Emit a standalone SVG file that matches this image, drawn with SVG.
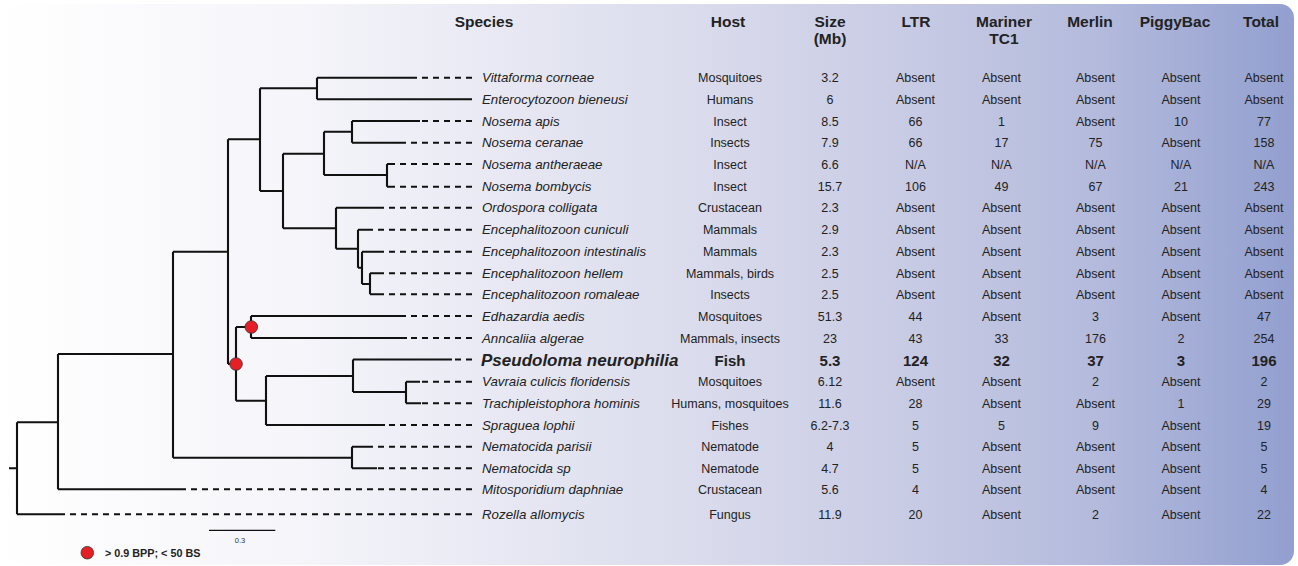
<svg xmlns="http://www.w3.org/2000/svg" width="1298" height="566" viewBox="0 0 1298 566">
<defs>
<linearGradient id="bg" x1="0" y1="0" x2="1" y2="0">
<stop offset="0" stop-color="#ffffff"/>
<stop offset="0.23" stop-color="#f5f5fa"/>
<stop offset="0.37" stop-color="#e9eaf4"/>
<stop offset="0.54" stop-color="#dadbec"/>
<stop offset="0.70" stop-color="#c8cbe4"/>
<stop offset="0.85" stop-color="#b3badc"/>
<stop offset="1" stop-color="#929fcf"/>
</linearGradient>
</defs>
<style>
.t{fill:none;stroke:#111;stroke-width:2.1;stroke-linecap:butt;stroke-linejoin:miter}
.d{fill:none;stroke:#111;stroke-width:2.1;stroke-dasharray:6 5}
.sp{font-family:"Liberation Sans",Arial,sans-serif;font-style:italic;font-size:13.3px;fill:#222}
.big{font-weight:bold;font-size:17px}
.c{font-family:"Liberation Sans",Arial,sans-serif;font-size:12.5px;fill:#222;text-anchor:middle}
.h{font-family:"Liberation Sans",Arial,sans-serif;font-weight:bold;font-size:15.5px;fill:#222;text-anchor:middle}
.b{font-weight:bold;font-size:15px}
.dot{fill:#e51f26;stroke:#333;stroke-width:0.8}
</style>
<rect x="0" y="4" width="1294" height="561" rx="14" fill="url(#bg)"/>

<g id="header">
<text class="h" x="484" y="26.5">Species</text>
<text class="h" x="728" y="26.5">Host</text>
<text class="h" x="830" y="26.5">Size</text>
<text class="h" x="830" y="43.5">(Mb)</text>
<text class="h" x="916" y="26.5">LTR</text>
<text class="h" x="1004" y="26.5">Mariner</text>
<text class="h" x="1004" y="43.5">TC1</text>
<text class="h" x="1090" y="26.5">Merlin</text>
<text class="h" x="1175" y="26.5">PiggyBac</text>
<text class="h" x="1261" y="26.5">Total</text>
</g>

<g id="connectors">
<path class="t" d="M9,468.3H17 M17,422.3V514.3 M17,514.3H62 M17,422.3H58 M58,354V489.3 M58,489.3H182 M58,354H173 M173,251.7V457.7 M173,457.7H352 M352,446.7V468.3 M352,446.7H372 M352,468.3H377 M173,251.7H228 M228,139.3V364 M228,364H236 M236,327V400.7 M236,327H251 M251,316V338 M251,316H400 M251,338H407 M236,400.7H266 M266,376V425 M266,425H385 M266,376H353 M353,359.5V392 M353,359.5H452 M353,392H406 M406,381.7V403.3 M406,381.7H420 M406,403.3H421 M228,139.3H260 M260,88.3V191 M260,88.3H317 M317,77.7V99.3 M317,77.7H415 M317,99.3H472 M260,191H283 M283,153.7V228.3 M283,153.7H324 M324,131.7V175 M324,131.7H352 M352,121V142.7 M352,121H420 M352,142.7H400 M324,175H387 M387,164V186.7 M387,164H390 M387,186.7H390 M283,228.3H336 M336,207.7V248.7 M336,207.7H383 M336,248.7H358 M358,229.7V267.7 M358,229.7H373 M358,267.7H362 M362,251.7V284 M362,251.7H380 M362,284H370 M370,273.3V294.3 M370,273.3H381 M370,294.3H381"/>
<path class="d" d="M472,77.7H415 M472,121H420 M472,142.7H400 M472,164H390 M472,186.7H390 M472,207.7H383 M472,229.7H373 M472,251.7H380 M472,273.3H381 M472,294.3H381 M472,316H400 M472,338H407 M472,359.5H452 M472,381.7H420 M472,403.3H421 M472,425H385 M472,446.7H372 M472,468.3H377 M472,489.3H182 M472,514.3H62"/>
<circle class="dot" cx="236" cy="364" r="6.3"/>
<circle class="dot" cx="251.3" cy="327" r="6.3"/>
</g>

<g id="r1"><text class="sp" x="482" y="82.2">Vittaforma corneae</text><text class="c" x="730" y="82.2">Mosquitoes</text><text class="c" x="830" y="82.2">3.2</text><text class="c" x="915.5" y="82.2">Absent</text><text class="c" x="1001.5" y="82.2">Absent</text><text class="c" x="1095.5" y="82.2">Absent</text><text class="c" x="1181" y="82.2">Absent</text><text class="c" x="1264" y="82.2">Absent</text></g>
<g id="r2"><text class="sp" x="482" y="103.8">Enterocytozoon bieneusi</text><text class="c" x="730" y="103.8">Humans</text><text class="c" x="830" y="103.8">6</text><text class="c" x="915.5" y="103.8">Absent</text><text class="c" x="1001.5" y="103.8">Absent</text><text class="c" x="1095.5" y="103.8">Absent</text><text class="c" x="1181" y="103.8">Absent</text><text class="c" x="1264" y="103.8">Absent</text></g>
<g id="r3"><text class="sp" x="482" y="125.5">Nosema apis</text><text class="c" x="730" y="125.5">Insect</text><text class="c" x="830" y="125.5">8.5</text><text class="c" x="915.5" y="125.5">66</text><text class="c" x="1001.5" y="125.5">1</text><text class="c" x="1095.5" y="125.5">Absent</text><text class="c" x="1181" y="125.5">10</text><text class="c" x="1264" y="125.5">77</text></g>
<g id="r4"><text class="sp" x="482" y="147.2">Nosema ceranae</text><text class="c" x="730" y="147.2">Insects</text><text class="c" x="830" y="147.2">7.9</text><text class="c" x="915.5" y="147.2">66</text><text class="c" x="1001.5" y="147.2">17</text><text class="c" x="1095.5" y="147.2">75</text><text class="c" x="1181" y="147.2">Absent</text><text class="c" x="1264" y="147.2">158</text></g>
<g id="r5"><text class="sp" x="482" y="168.5">Nosema antheraeae</text><text class="c" x="730" y="168.5">Insect</text><text class="c" x="830" y="168.5">6.6</text><text class="c" x="915.5" y="168.5">N/A</text><text class="c" x="1001.5" y="168.5">N/A</text><text class="c" x="1095.5" y="168.5">N/A</text><text class="c" x="1181" y="168.5">N/A</text><text class="c" x="1264" y="168.5">N/A</text></g>
<g id="r6"><text class="sp" x="482" y="191.2">Nosema bombycis</text><text class="c" x="730" y="191.2">Insect</text><text class="c" x="830" y="191.2">15.7</text><text class="c" x="915.5" y="191.2">106</text><text class="c" x="1001.5" y="191.2">49</text><text class="c" x="1095.5" y="191.2">67</text><text class="c" x="1181" y="191.2">21</text><text class="c" x="1264" y="191.2">243</text></g>
<g id="r7"><text class="sp" x="482" y="212.2">Ordospora colligata</text><text class="c" x="730" y="212.2">Crustacean</text><text class="c" x="830" y="212.2">2.3</text><text class="c" x="915.5" y="212.2">Absent</text><text class="c" x="1001.5" y="212.2">Absent</text><text class="c" x="1095.5" y="212.2">Absent</text><text class="c" x="1181" y="212.2">Absent</text><text class="c" x="1264" y="212.2">Absent</text></g>
<g id="r8"><text class="sp" x="482" y="234.2">Encephalitozoon cuniculi</text><text class="c" x="730" y="234.2">Mammals</text><text class="c" x="830" y="234.2">2.9</text><text class="c" x="915.5" y="234.2">Absent</text><text class="c" x="1001.5" y="234.2">Absent</text><text class="c" x="1095.5" y="234.2">Absent</text><text class="c" x="1181" y="234.2">Absent</text><text class="c" x="1264" y="234.2">Absent</text></g>
<g id="r9"><text class="sp" x="482" y="256.2">Encephalitozoon intestinalis</text><text class="c" x="730" y="256.2">Mammals</text><text class="c" x="830" y="256.2">2.3</text><text class="c" x="915.5" y="256.2">Absent</text><text class="c" x="1001.5" y="256.2">Absent</text><text class="c" x="1095.5" y="256.2">Absent</text><text class="c" x="1181" y="256.2">Absent</text><text class="c" x="1264" y="256.2">Absent</text></g>
<g id="r10"><text class="sp" x="482" y="277.8">Encephalitozoon hellem</text><text class="c" x="730" y="277.8">Mammals, birds</text><text class="c" x="830" y="277.8">2.5</text><text class="c" x="915.5" y="277.8">Absent</text><text class="c" x="1001.5" y="277.8">Absent</text><text class="c" x="1095.5" y="277.8">Absent</text><text class="c" x="1181" y="277.8">Absent</text><text class="c" x="1264" y="277.8">Absent</text></g>
<g id="r11"><text class="sp" x="482" y="298.8">Encephalitozoon romaleae</text><text class="c" x="730" y="298.8">Insects</text><text class="c" x="830" y="298.8">2.5</text><text class="c" x="915.5" y="298.8">Absent</text><text class="c" x="1001.5" y="298.8">Absent</text><text class="c" x="1095.5" y="298.8">Absent</text><text class="c" x="1181" y="298.8">Absent</text><text class="c" x="1264" y="298.8">Absent</text></g>
<g id="r12"><text class="sp" x="482" y="320.5">Edhazardia aedis</text><text class="c" x="730" y="320.5">Mosquitoes</text><text class="c" x="830" y="320.5">51.3</text><text class="c" x="915.5" y="320.5">44</text><text class="c" x="1001.5" y="320.5">Absent</text><text class="c" x="1095.5" y="320.5">3</text><text class="c" x="1181" y="320.5">Absent</text><text class="c" x="1264" y="320.5">47</text></g>
<g id="r13"><text class="sp" x="482" y="342.5">Anncaliia algerae</text><text class="c" x="730" y="342.5">Mammals, insects</text><text class="c" x="830" y="342.5">23</text><text class="c" x="915.5" y="342.5">43</text><text class="c" x="1001.5" y="342.5">33</text><text class="c" x="1095.5" y="342.5">176</text><text class="c" x="1181" y="342.5">2</text><text class="c" x="1264" y="342.5">254</text></g>
<g id="r14"><text class="sp big" x="481" y="366">Pseudoloma neurophilia</text><text class="c b" x="730" y="366">Fish</text><text class="c b" x="830" y="366">5.3</text><text class="c b" x="915.5" y="366">124</text><text class="c b" x="1001.5" y="366">32</text><text class="c b" x="1095.5" y="366">37</text><text class="c b" x="1181" y="366">3</text><text class="c b" x="1264" y="366">196</text></g>
<g id="r15"><text class="sp" x="482" y="386.2">Vavraia culicis floridensis</text><text class="c" x="730" y="386.2">Mosquitoes</text><text class="c" x="830" y="386.2">6.12</text><text class="c" x="915.5" y="386.2">Absent</text><text class="c" x="1001.5" y="386.2">Absent</text><text class="c" x="1095.5" y="386.2">2</text><text class="c" x="1181" y="386.2">Absent</text><text class="c" x="1264" y="386.2">2</text></g>
<g id="r16"><text class="sp" x="482" y="407.8">Trachipleistophora hominis</text><text class="c" x="730" y="407.8">Humans, mosquitoes</text><text class="c" x="830" y="407.8">11.6</text><text class="c" x="915.5" y="407.8">28</text><text class="c" x="1001.5" y="407.8">Absent</text><text class="c" x="1095.5" y="407.8">Absent</text><text class="c" x="1181" y="407.8">1</text><text class="c" x="1264" y="407.8">29</text></g>
<g id="r17"><text class="sp" x="482" y="429.5">Spraguea lophii</text><text class="c" x="730" y="429.5">Fishes</text><text class="c" x="830" y="429.5">6.2-7.3</text><text class="c" x="915.5" y="429.5">5</text><text class="c" x="1001.5" y="429.5">5</text><text class="c" x="1095.5" y="429.5">9</text><text class="c" x="1181" y="429.5">Absent</text><text class="c" x="1264" y="429.5">19</text></g>
<g id="r18"><text class="sp" x="482" y="451.2">Nematocida parisii</text><text class="c" x="730" y="451.2">Nematode</text><text class="c" x="830" y="451.2">4</text><text class="c" x="915.5" y="451.2">5</text><text class="c" x="1001.5" y="451.2">Absent</text><text class="c" x="1095.5" y="451.2">Absent</text><text class="c" x="1181" y="451.2">Absent</text><text class="c" x="1264" y="451.2">5</text></g>
<g id="r19"><text class="sp" x="482" y="472.8">Nematocida sp</text><text class="c" x="730" y="472.8">Nematode</text><text class="c" x="830" y="472.8">4.7</text><text class="c" x="915.5" y="472.8">5</text><text class="c" x="1001.5" y="472.8">Absent</text><text class="c" x="1095.5" y="472.8">Absent</text><text class="c" x="1181" y="472.8">Absent</text><text class="c" x="1264" y="472.8">5</text></g>
<g id="r20"><text class="sp" x="482" y="493.8">Mitosporidium daphniae</text><text class="c" x="730" y="493.8">Crustacean</text><text class="c" x="830" y="493.8">5.6</text><text class="c" x="915.5" y="493.8">4</text><text class="c" x="1001.5" y="493.8">Absent</text><text class="c" x="1095.5" y="493.8">Absent</text><text class="c" x="1181" y="493.8">Absent</text><text class="c" x="1264" y="493.8">4</text></g>
<g id="r21"><text class="sp" x="482" y="518.8">Rozella allomycis</text><text class="c" x="730" y="518.8">Fungus</text><text class="c" x="830" y="518.8">11.9</text><text class="c" x="915.5" y="518.8">20</text><text class="c" x="1001.5" y="518.8">Absent</text><text class="c" x="1095.5" y="518.8">2</text><text class="c" x="1181" y="518.8">Absent</text><text class="c" x="1264" y="518.8">22</text></g>

<g id="scale">
<line x1="209" y1="530.3" x2="275.3" y2="530.3" stroke="#111" stroke-width="1.2"/>
<text x="240" y="543" font-family="Liberation Sans, Arial, sans-serif" font-size="7.5" fill="#333" text-anchor="middle">0.3</text>
</g>
<g id="legend">
<circle class="dot" cx="87.3" cy="552.7" r="6.3"/>
<text x="105" y="556.8" font-family="Liberation Sans, Arial, sans-serif" font-weight="bold" font-size="10.8px" fill="#222">&gt; 0.9 BPP; &lt; 50 BS</text>
</g>
</svg>
